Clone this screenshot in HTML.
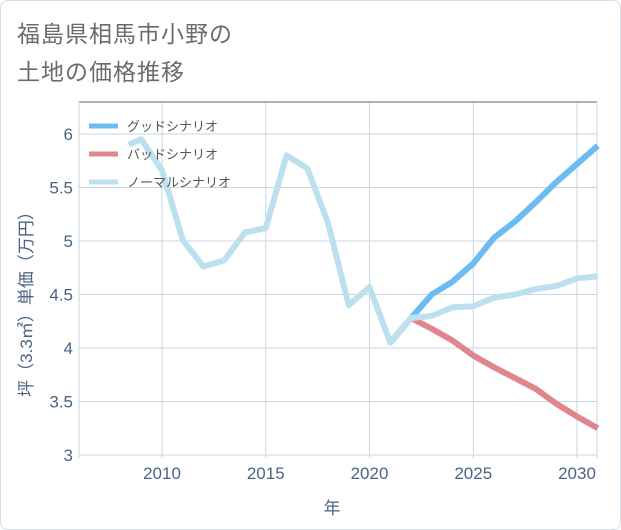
<!DOCTYPE html>
<html><head><meta charset="utf-8"><style>
html,body{margin:0;padding:0;background:#fff;}
body{width:621px;height:530px;position:relative;overflow:hidden;font-family:"Liberation Sans","Noto Sans CJK JP",sans-serif;}
.card{position:absolute;left:0;top:0;width:619px;height:528px;border:1px solid #d5dde5;border-radius:8px;}
.title{position:absolute;left:17px;top:15px;font-size:23px;line-height:38px;color:#6b6b6b;letter-spacing:1px;}
</style></head><body>
<div class="card"></div>
<div class="title">福島県相馬市小野の<br>土地の価格推移</div>
<svg id="chart" width="621" height="530" style="position:absolute;left:0;top:0"></svg>
<script>
const years=[2008.4,2009,2010,2011,2012,2013,2014,2015,2016,2017,2018,2019,2020,2021,2022,2023,2024,2025,2026,2027,2028,2029,2030,2031];
const normal=[5.90,5.95,5.66,5.01,4.76,4.82,5.08,5.12,5.80,5.68,5.17,4.40,4.57,4.05,4.28,4.30,4.38,4.39,4.47,4.50,4.55,4.58,4.65,4.67];
const futureYears=[2021,2022,2023,2024,2025,2026,2027,2028,2029,2030,2031];
const good=[4.05,4.28,4.50,4.62,4.79,5.03,5.18,5.36,5.55,5.72,5.89];
const bad=[4.05,4.28,4.18,4.07,3.93,3.82,3.72,3.62,3.48,3.36,3.25];
const xTicks=[2010,2015,2020,2025,2030];
const yTicks=[3,3.5,4,4.5,5,5.5,6];
const yLabels=["3","3.5","4","4.5","5","5.5","6"];
const seriesNames=["グッドシナリオ","バッドシナリオ","ノーマルシナリオ"];
const seriesColors=["#6cbcf0","#e0868e","#bde0ee"];

const NS="http://www.w3.org/2000/svg";
const svg=document.getElementById('chart');
const L=79,R=597,T=102,B=458;
const x=v=>162+(v-2010)*20.75;
const y=v=>134+(6-v)*107;
function mk(tag,attrs,parent){const e=document.createElementNS(NS,tag);for(const k in attrs)e.setAttribute(k,attrs[k]);(parent||svg).appendChild(e);return e;}
mk('rect',{x:L,y:T,width:R-L,height:B-T,fill:'#fff',stroke:'none'});
yTicks.forEach((t,i)=>{
  const g=mk('line',{x1:L,x2:R,y1:y(t),y2:y(t),stroke:'#c9d6e3','stroke-width':1});
  
  
  const tx=mk('text',{x:73,y:y(t)+6,'text-anchor':'end','font-size':17,fill:'#4a6584'});
  tx.textContent=yLabels[i];
  
  
});
xTicks.forEach(t=>{
  const g=mk('line',{x1:x(t),x2:x(t),y1:T,y2:B,stroke:'#c9d6e3','stroke-width':1});
  
  
  const tx=mk('text',{x:x(t),y:479,'text-anchor':'middle','font-size':17,fill:'#4a6584'});
  tx.textContent=String(t);
  
  
});
mk('line',{x1:L,x2:R,y1:T,y2:T,stroke:'#999','stroke-width':1.5});
mk('line',{x1:R,x2:R,y1:T,y2:B,stroke:'#c9d6e3','stroke-width':1});
mk('line',{x1:L,x2:L,y1:T,y2:B,stroke:'#c9d6e3','stroke-width':1});
function line(xs,vs,color,name){
  const p=mk('polyline',{points:xs.map((v,i)=>x(v)+','+y(vs[i])).join(' '),fill:'none',stroke:color,'stroke-width':6,'stroke-linejoin':'round'});
  
  
}
line(futureYears,bad,seriesColors[1],'bad-scenario-line');
line(futureYears,good,seriesColors[0],'good-scenario-line');
line(years,normal,seriesColors[2],'normal-scenario-line');
seriesNames.forEach((n,i)=>{
  const yy=126+i*28;
  const sw=mk('line',{x1:89,x2:118,y1:yy,y2:yy,stroke:seriesColors[i],'stroke-width':5});
  
  
  const tx=mk('text',{x:127,y:yy+5,'font-size':13,fill:'#555'});
  tx.textContent=n;
  
  
});
const xt=mk('text',{x:332,y:514,'text-anchor':'middle','font-size':17,fill:'#4a6584'});
xt.textContent='年';


const yt=mk('text',{x:0,y:0,'text-anchor':'middle','font-size':17,fill:'#4a6584',transform:'translate(32,300) rotate(-90)'});
yt.textContent='坪（3.3㎡）単価（万円）';


</script>
</body></html>
